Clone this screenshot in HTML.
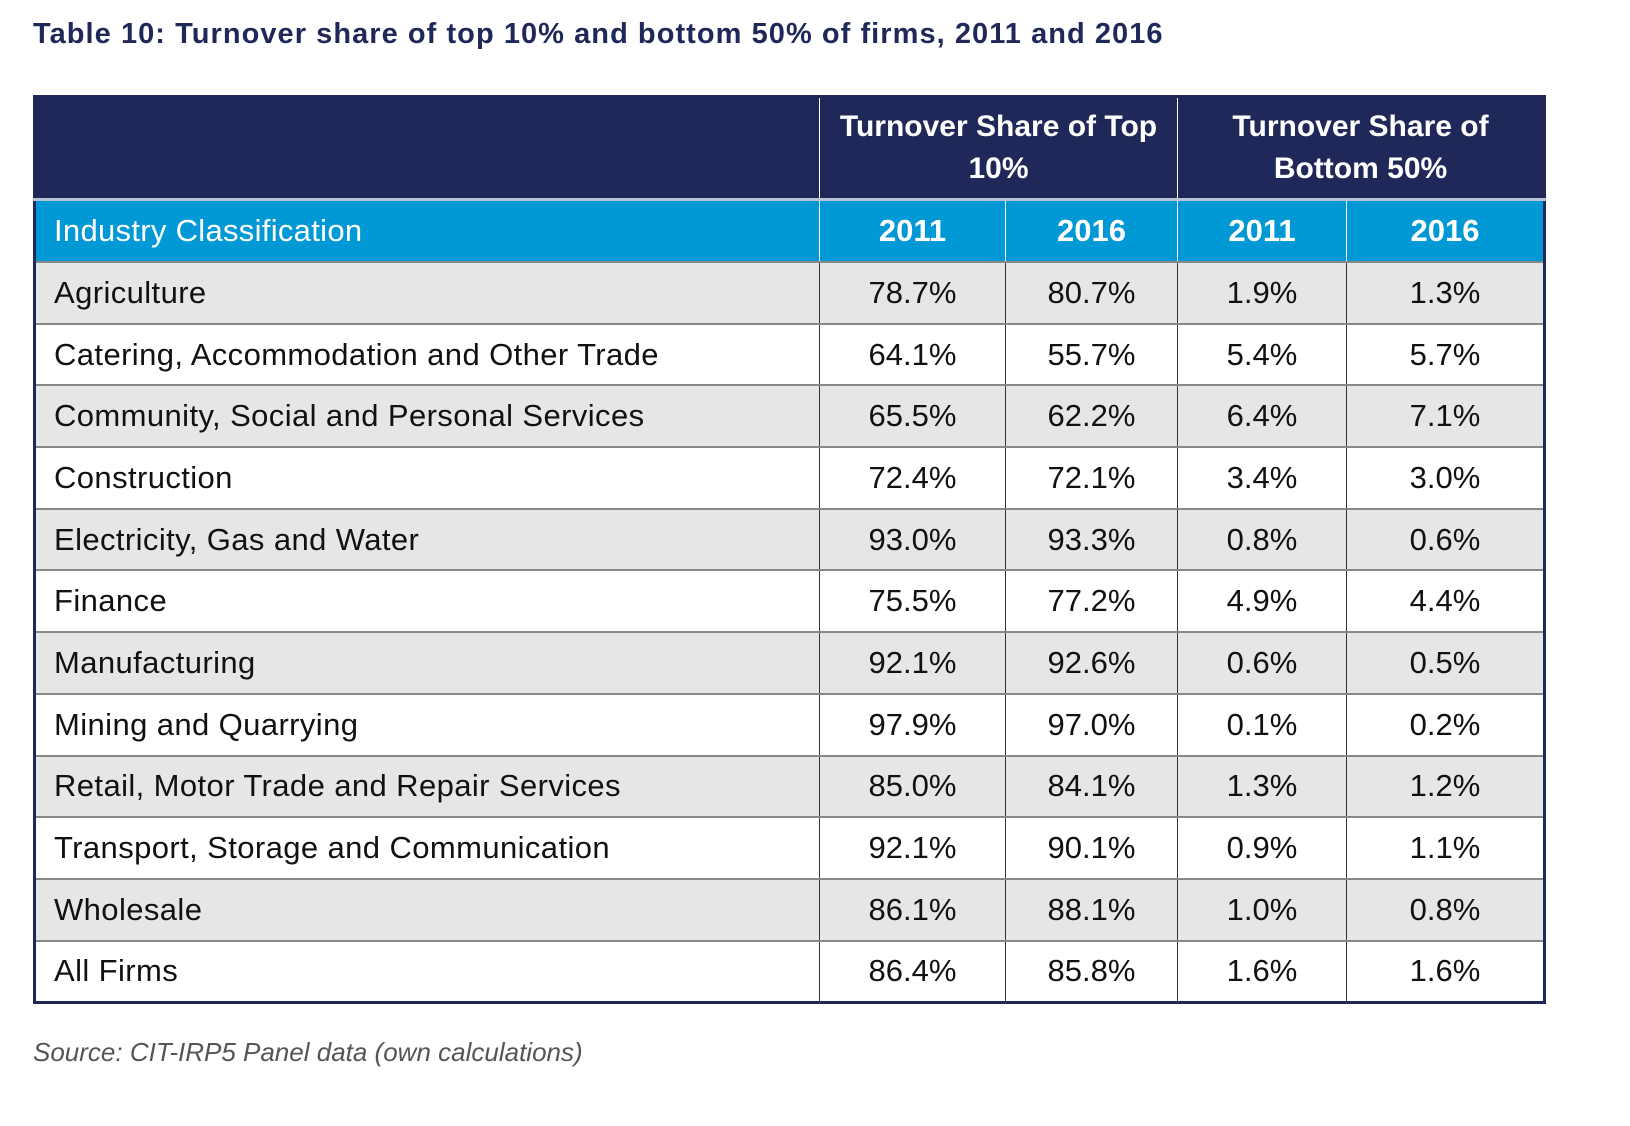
<!DOCTYPE html>
<html><head><meta charset="utf-8">
<style>
html,body{margin:0;padding:0;}
body{width:1630px;height:1126px;background:#fff;position:relative;overflow:hidden;font-family:"Liberation Sans",sans-serif;}
#title{position:absolute;left:33px;top:18px;font-size:29px;font-weight:bold;color:#1f2858;letter-spacing:1.05px;}
#tbl{position:absolute;left:33px;top:95px;border-collapse:collapse;width:1510px;table-layout:fixed;border:3px solid #1f2858;}
#tbl td,#tbl th{padding:0;font-size:31px;}
#tbl .h1 th{background:#1f2858;color:#fff;height:100px;font-weight:bold;line-height:42px;border-left:1px solid #fff;font-size:30px;}
#tbl .h2 th{background:#0099d6;color:#fff;height:60px;font-weight:bold;border-left:1px solid #fff;border-top:3px solid #b8c4d8;}
#tbl .h2 th.lab{text-align:left;padding-left:18px;font-weight:normal;letter-spacing:0.3px;}
#tbl .r td{height:59.7px;border-top:2px solid #888;border-left:1px solid #333;color:#111;text-align:center;}
#tbl .r td.lab{text-align:left;padding-left:18px;letter-spacing:0.4px;}
.r:nth-child(odd) td{background:#e6e6e6;}
.r:nth-child(even) td{background:#fff;}
#src{position:absolute;left:33px;top:1037px;font-size:26px;font-style:italic;color:#555;}
</style></head><body>
<div id="title">Table 10: Turnover share of top 10% and bottom 50% of firms, 2011 and 2016</div>
<table id="tbl">
<colgroup><col style="width:785px"><col style="width:186px"><col style="width:172px"><col style="width:169px"><col style="width:198px"></colgroup>
<thead>
<tr class="h1"><th style="border-left:none"></th><th colspan="2">Turnover Share of Top<br>10%</th><th colspan="2">Turnover Share of<br>Bottom 50%</th></tr>
<tr class="h2"><th class="lab" style="border-left:none">Industry Classification</th><th>2011</th><th>2016</th><th>2011</th><th>2016</th></tr>
</thead>
<tbody>
<tr class="r"><td class="lab">Agriculture</td><td>78.7%</td><td>80.7%</td><td>1.9%</td><td>1.3%</td></tr>
<tr class="r"><td class="lab">Catering, Accommodation and Other Trade</td><td>64.1%</td><td>55.7%</td><td>5.4%</td><td>5.7%</td></tr>
<tr class="r"><td class="lab">Community, Social and Personal Services</td><td>65.5%</td><td>62.2%</td><td>6.4%</td><td>7.1%</td></tr>
<tr class="r"><td class="lab">Construction</td><td>72.4%</td><td>72.1%</td><td>3.4%</td><td>3.0%</td></tr>
<tr class="r"><td class="lab">Electricity, Gas and Water</td><td>93.0%</td><td>93.3%</td><td>0.8%</td><td>0.6%</td></tr>
<tr class="r"><td class="lab">Finance</td><td>75.5%</td><td>77.2%</td><td>4.9%</td><td>4.4%</td></tr>
<tr class="r"><td class="lab">Manufacturing</td><td>92.1%</td><td>92.6%</td><td>0.6%</td><td>0.5%</td></tr>
<tr class="r"><td class="lab">Mining and Quarrying</td><td>97.9%</td><td>97.0%</td><td>0.1%</td><td>0.2%</td></tr>
<tr class="r"><td class="lab">Retail, Motor Trade and Repair Services</td><td>85.0%</td><td>84.1%</td><td>1.3%</td><td>1.2%</td></tr>
<tr class="r"><td class="lab">Transport, Storage and Communication</td><td>92.1%</td><td>90.1%</td><td>0.9%</td><td>1.1%</td></tr>
<tr class="r"><td class="lab">Wholesale</td><td>86.1%</td><td>88.1%</td><td>1.0%</td><td>0.8%</td></tr>
<tr class="r"><td class="lab">All Firms</td><td>86.4%</td><td>85.8%</td><td>1.6%</td><td>1.6%</td></tr>
</tbody>
</table>
<div id="src">Source: CIT-IRP5 Panel data (own calculations)</div>
</body></html>
